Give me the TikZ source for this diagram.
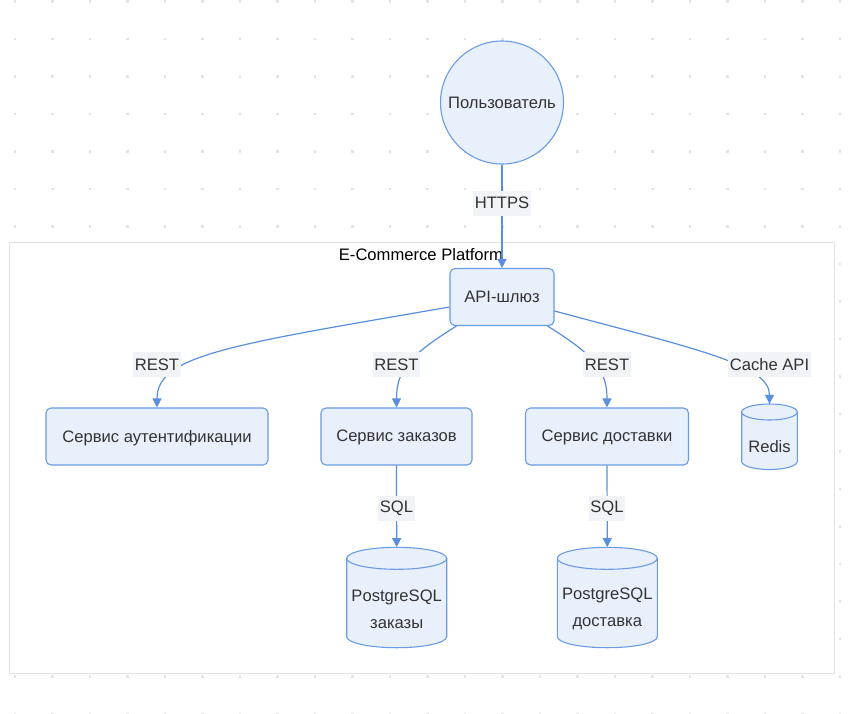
\documentclass[tikz,border=0pt]{standalone}
\usepackage{fontspec}
\setmainfont{Liberation Sans}
\usetikzlibrary{arrows.meta}
\definecolor{nodefill}{HTML}{E8F0FC}
\definecolor{nodestroke}{HTML}{6A9BE6}
\definecolor{edgec}{HTML}{5A8FE0}
\definecolor{labelbg}{HTML}{F0F3F8}
\definecolor{txt}{HTML}{333333}
\definecolor{clusterc}{HTML}{E2E2E2}
\definecolor{dotc}{HTML}{E4E4E4}
\tikzset{
  basefont/.style={font=\fontsize{16.6pt}{19pt}\selectfont, text=txt},
  box/.style={basefont, draw=nodestroke, fill=nodefill, line width=1.1pt, rounded corners=5pt, minimum height=57pt, inner sep=0pt, text depth=1pt},
  usercircle/.style={basefont, circle, draw=nodestroke, fill=nodefill, line width=1.1pt, minimum size=123pt, inner sep=0pt},
  cylbox/.style={inner sep=0pt},
  cylshape/.style={draw=nodestroke, fill=nodefill, line width=1.1pt},
  elabel/.style={basefont, fill=labelbg, inner xsep=1.5pt, inner ysep=0pt, minimum height=25pt},
  conn/.style={draw=edgec, line width=1.2pt, -{Triangle[length=9pt,width=9pt]}},
}
\begin{document}
\begin{tikzpicture}[x=1pt,y=-1pt]
\useasboundingbox (0,0) rectangle (856,713);
\fill[white] (0,0) rectangle (856,713);
% dot grid
\foreach \i in {0,...,22}{
  \foreach \j in {0,...,19}{
    \fill[dotc] ({15+37.5*\i-1.25},{1.5+37.5*\j-1.25}) rectangle ++(2.5,2.5);
  }
}
% cluster
\draw[clusterc, line width=1pt, fill=white] (9,242) rectangle (834,673);
\node[font=\fontsize{16.6pt}{19pt}\selectfont, text=black] (title) at (421,255) {E-Commerce Platform};

% nodes
\node[usercircle] (user) at (502,102.5) {Пользователь};
\node[box, minimum width=104pt] (api) at (502,297) {API-шлюз};
\node[box, minimum width=222pt] (auth) at (157,436.5) {Сервис аутентификации};
\node[box, minimum width=151pt] (orders) at (396.5,436.5) {Сервис заказов};
\node[box, minimum width=163pt] (delivery) at (607,436.5) {Сервис доставки};

% cylinders
\path[cylshape] (741.7,412) -- (741.7,461.5) arc[start angle=180,end angle=360,x radius=27.8pt,y radius=8pt]
  -- (797.3,412) arc[start angle=0,end angle=180,x radius=27.8pt,y radius=8pt] -- cycle;
\draw[nodestroke, line width=1.1pt] (741.7,412) arc[start angle=180,end angle=360,x radius=27.8pt,y radius=8pt];
\node[cylbox, minimum width=55.6pt, minimum height=65.5pt] (redis) at (769.5,436.75) {};
\node[basefont] (redistxt) at (769.5,447) {Redis};

\path[cylshape] (346.7,558.3) -- (346.7,636.7) arc[start angle=180,end angle=360,x radius=50pt,y radius=11pt]
  -- (446.7,558.3) arc[start angle=0,end angle=180,x radius=50pt,y radius=11pt] -- cycle;
\draw[nodestroke, line width=1.1pt] (346.7,558.3) arc[start angle=180,end angle=360,x radius=50pt,y radius=11pt];
\node[cylbox, minimum width=100pt, minimum height=100.4pt] (pgo) at (396.7,597.5) {};
\node[basefont, align=center, font=\fontsize{16.6pt}{26.7pt}\selectfont] (pgotxt) at (396.7,609) {PostgreSQL\\заказы};

\path[cylshape] (557.3,558.3) -- (557.3,636.7) arc[start angle=180,end angle=360,x radius=50pt,y radius=11pt]
  -- (657.3,558.3) arc[start angle=0,end angle=180,x radius=50pt,y radius=11pt] -- cycle;
\draw[nodestroke, line width=1.1pt] (557.3,558.3) arc[start angle=180,end angle=360,x radius=50pt,y radius=11pt];
\node[cylbox, minimum width=100pt, minimum height=100.4pt] (pgd) at (607.3,597.5) {};
\node[basefont, align=center, font=\fontsize{16.6pt}{26.7pt}\selectfont] (pgdtxt) at (607.3,609) {PostgreSQL\\доставка};

% connectors
\draw[conn] (user) -- (api);
\draw[conn] ([yshift=-10pt]api.west) .. controls (230,345) and (157,355) .. (auth.north);
\draw[conn] ([xshift=7pt]api.south west) .. controls (410,355) and (396.5,370) .. (orders.north);
\draw[conn] ([xshift=-7pt]api.south east) .. controls (594,355) and (607,370) .. (delivery.north);
\draw[conn] ([yshift=-14pt]api.east) .. controls (700,350) and (769.5,365) .. (redis.north);
\draw[conn] (orders.south) -- (pgo.north);
\draw[conn] (delivery.south) -- (pgd.north);

% edge labels
\node[elabel] (l1) at (502,203) {HTTPS};
\node[elabel] (l2) at (157,364.5) {REST};
\node[elabel] (l3) at (396.5,364.5) {REST};
\node[elabel] (l4) at (607,364.5) {REST};
\node[elabel] (l5) at (769.5,364.5) {Cache API};
\node[elabel] (l6) at (396.5,508) {SQL};
\node[elabel] (l7) at (607,508) {SQL};
\end{tikzpicture}
\end{document}
